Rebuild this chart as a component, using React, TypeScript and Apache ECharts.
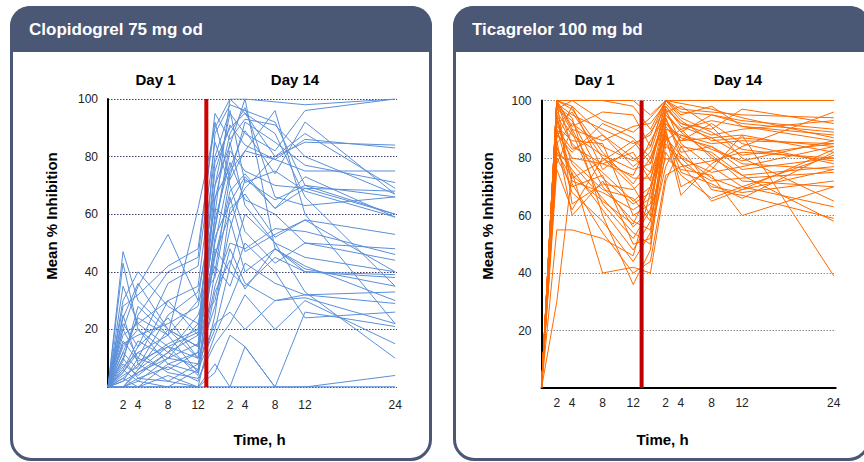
import React, { useEffect, useRef } from "react";
import * as echarts from "echarts";

// Sampling times (hours)
const DAY1_HOURS = [0, 2, 4, 8, 12];
const DAY14_HOURS = [0, 2, 4, 8, 12, 24];
const DAY14_TICK_HOURS = [2, 4, 8, 12, 24];
const DAY1_TICK_HOURS = [2, 4, 8, 12];
const Y_TICKS = [20, 40, 60, 80, 100];

// Per-subject % inhibition: day 1 (0,2,4,8,12 h) then day 14 (0,2,4,8,12,24 h)
const CLOPIDOGREL_VALUES: number[][] = [
  [0, 47, 30, 20, 10, 60, 100, 100, 99, 98, 100],
  [0, 20, 35, 53, 30, 70, 95, 88, 82, 96, 100],
  [0, 5, 12, 18, 62, 90, 100, 95, 80, 85, 84],
  [0, 10, 25, 40, 45, 95, 86, 93, 91, 80, 67],
  [0, 25, 8, 15, 20, 75, 91, 84, 79, 86, 83],
  [0, 0, 5, 10, 15, 50, 75, 82, 79, 75, 75],
  [0, 3, 0, 8, 5, 40, 73, 92, 85, 77, 71],
  [0, 15, 18, 22, 28, 55, 82, 75, 70, 69, 68],
  [0, 8, 4, 12, 18, 65, 88, 97, 66, 63, 66],
  [0, 30, 40, 28, 22, 30, 55, 72, 65, 70, 66],
  [0, 2, 10, 6, 12, 45, 68, 74, 62, 69, 60],
  [0, 18, 22, 30, 35, 80, 96, 71, 75, 68, 59],
  [0, 0, 0, 4, 0, 25, 62, 67, 52, 58, 53],
  [0, 12, 6, 20, 14, 58, 78, 65, 60, 50, 48],
  [0, 6, 16, 10, 8, 35, 50, 48, 55, 54, 46],
  [0, 22, 14, 36, 42, 85, 70, 54, 43, 50, 44],
  [0, 0, 2, 0, 6, 20, 42, 60, 50, 45, 40],
  [0, 9, 28, 18, 5, 48, 40, 35, 45, 40, 39],
  [0, 4, 7, 25, 33, 62, 58, 40, 48, 40, 38],
  [0, 14, 20, 8, 12, 70, 84, 100, 48, 41, 35],
  [0, 0, 3, 7, 2, 18, 30, 43, 36, 32, 33],
  [0, 35, 22, 14, 10, 28, 48, 36, 30, 32, 29],
  [0, 2, 5, 12, 25, 42, 35, 50, 40, 24, 26],
  [0, 10, 3, 2, 8, 22, 26, 20, 30, 31, 22],
  [0, 0, 0, 0, 0, 5, 18, 14, 0, 26, 21],
  [0, 7, 12, 5, 3, 15, 22, 32, 20, 30, 15],
  [0, 20, 10, 30, 18, 55, 85, 63, 50, 33, 10],
  [0, 0, 0, 0, 0, 0, 0, 0, 0, 0, 4],
  [0, 0, 0, 0, 0, 0, 0, 0, 0, 0, 0],
  [0, 3, 8, 2, 0, 8, 0, 14, 0, 0, 0],
  [0, 28, 32, 42, 48, 92, 72, 82, 96, 60, 22],
  [0, 16, 9, 14, 19, 78, 90, 95, 88, 66, 35],
  [0, 5, 14, 24, 10, 66, 76, 89, 74, 92, 67],
  [0, 43, 20, 12, 6, 52, 64, 73, 62, 73, 59],
  [0, 12, 24, 18, 30, 38, 66, 47, 53, 58, 40],
  [0, 0, 6, 14, 4, 33, 44, 34, 48, 42, 30],
  [0, 24, 36, 20, 14, 88, 98, 96, 92, 70, 60],
  [0, 6, 2, 10, 22, 46, 60, 69, 80, 88, 69],
];

const TICAGRELOR_VALUES: number[][] = [
  [0, 100, 100, 100, 100, 95, 100, 100, 100, 100, 100],
  [0, 100, 100, 100, 98, 90, 100, 100, 100, 100, 100],
  [0, 100, 98, 88, 80, 75, 100, 97, 96, 95, 94],
  [0, 99, 95, 90, 85, 88, 100, 96, 95, 92, 89],
  [0, 92, 96, 80, 70, 60, 98, 92, 90, 97, 92],
  [0, 88, 82, 92, 87, 80, 95, 90, 93, 91, 86],
  [0, 95, 85, 75, 65, 70, 90, 88, 85, 86, 85],
  [0, 100, 90, 70, 58, 55, 92, 86, 87, 88, 82],
  [0, 85, 92, 84, 79, 84, 100, 94, 89, 83, 79],
  [0, 90, 72, 68, 62, 66, 86, 90, 80, 74, 77],
  [0, 80, 70, 74, 50, 52, 88, 78, 72, 73, 75],
  [0, 96, 88, 81, 76, 78, 97, 85, 77, 70, 81],
  [0, 83, 76, 62, 48, 58, 84, 80, 70, 68, 72],
  [0, 100, 84, 78, 82, 72, 96, 98, 91, 80, 65],
  [0, 86, 60, 72, 56, 62, 80, 76, 74, 60, 70],
  [0, 94, 78, 66, 54, 50, 82, 74, 66, 70, 63],
  [0, 78, 90, 86, 91, 92, 99, 93, 86, 87, 84],
  [0, 55, 55, 52, 46, 68, 91, 84, 69, 67, 59],
  [0, 30, 75, 40, 42, 40, 72, 84, 82, 74, 58],
  [0, 98, 94, 60, 36, 48, 90, 70, 76, 88, 39],
  [0, 100, 64, 71, 69, 75, 88, 67, 78, 84, 96],
  [0, 89, 80, 78, 74, 86, 95, 89, 95, 93, 90],
  [0, 97, 100, 93, 89, 94, 100, 99, 97, 94, 87],
  [0, 91, 86, 85, 60, 64, 94, 82, 84, 76, 80],
  [0, 84, 68, 58, 44, 54, 77, 88, 83, 79, 86],
  [0, 100, 97, 82, 71, 80, 93, 86, 92, 85, 78],
  [0, 93, 74, 65, 57, 70, 85, 78, 65, 69, 76],
  [0, 87, 98, 76, 84, 89, 97, 92, 88, 90, 93],
  [0, 76, 62, 80, 73, 73, 89, 75, 71, 66, 82],
  [0, 100, 91, 96, 95, 84, 100, 95, 98, 91, 88],
  [0, 81, 79, 69, 66, 58, 87, 81, 73, 69, 83],
  [0, 95, 71, 54, 40, 44, 74, 77, 79, 82, 80],
  [0, 90, 83, 88, 77, 82, 98, 91, 87, 81, 85],
  [0, 99, 89, 64, 52, 62, 92, 87, 84, 78, 76],
  [0, 82, 73, 79, 86, 78, 94, 80, 75, 77, 84],
  [0, 97, 93, 73, 64, 68, 96, 89, 81, 72, 70],
];

const PANEL_TITLES = ["Clopidogrel 75 mg od", "Ticagrelor 100 mg bd"];
const DAY_LABELS = ["Day 1", "Day 14"];

// layout constants (axis positions, not data)
const DAY14_OFFSET = 14.25;
const SWITCH_POS = 13.1;
const X_MAX = 38.5;

const FONT = "'Liberation Sans', Arial, Helvetica, sans-serif";
const FRAME = "#4a5775";

function toPoints(row: number[]) {
  return [
    ...DAY1_HOURS.map((h, i) => [h, row[i]]),
    ...DAY14_HOURS.map((h, i) => [DAY14_OFFSET + h, row[DAY1_HOURS.length + i]]),
  ];
}

const X_LABELS: Record<string, string> = {};
DAY1_TICK_HOURS.forEach((h) => (X_LABELS[String(Math.round(h * 100))] = String(h)));
DAY14_TICK_HOURS.forEach(
  (h) => (X_LABELS[String(Math.round((DAY14_OFFSET + h) * 100))] = String(h))
);

export default function App() {
  const ref = useRef<HTMLDivElement>(null);
  useEffect(() => {
    if (!ref.current) return;
    const chart = echarts.init(ref.current, undefined, { renderer: "svg" });

    const grids = [
      { left: 108, right: 864 - 397, top: 99, bottom: 462 - 387 },
      { left: 541.5, right: 864 - 835.7, top: 100.5, bottom: 462 - 388 },
    ];

    const xAxes = [0, 1].map((p) => ({
      type: "value",
      gridIndex: p,
      min: 0,
      max: X_MAX,
      interval: 0.25,
      axisLine: { show: p === 1, lineStyle: { color: "#000", width: 2 } },
      axisTick: { show: false },
      splitLine: { show: false },
      axisLabel: {
        color: "#222",
        fontSize: 12,
        fontFamily: FONT,
        margin: p === 0 ? 12 : 9,
        showMinLabel: true,
        showMaxLabel: true,
        formatter: (v: number) => X_LABELS[String(Math.round(v * 100))] || "",
      },
    }));

    const yAxes = [0, 1].map((p) => ({
      type: "value",
      gridIndex: p,
      min: 0,
      max: 100,
      interval: 20,
      axisLine: { show: true, lineStyle: { color: "#000", width: 2 } },
      axisTick: { show: false },
      splitLine: {
        show: true,
        lineStyle: {
          color: p === 0 ? "#3c3c70" : "#8a8a8a",
          type: [1.5, 1.5],
          width: 1,
        },
      },
      axisLabel: {
        color: "#222",
        fontSize: 12,
        fontFamily: FONT,
        margin: 10,
        formatter: (v: number) => (Y_TICKS.includes(v) ? String(v) : ""),
      },
    }));

    const series: any[] = [];
    const sets = [
      { rows: CLOPIDOGREL_VALUES, color: "#5b8fd8", red: "#d00000" },
      { rows: TICAGRELOR_VALUES, color: "#ff6a00", red: "#c00000" },
    ];
    sets.forEach((s, p) => {
      s.rows.forEach((r) =>
        series.push({
          type: "line",
          xAxisIndex: p,
          yAxisIndex: p,
          data: toPoints(r),
          symbol: "none",
          silent: true,
          lineStyle: { width: 1, color: s.color },
          z: 2,
        })
      );
      series.push({
        type: "line",
        xAxisIndex: p,
        yAxisIndex: p,
        data: [
          [SWITCH_POS, 0],
          [SWITCH_POS, 100],
        ],
        symbol: "none",
        silent: true,
        lineStyle: { width: 4, color: s.red },
        z: 5,
      });
    });

    const panels = [
      { x0: 10, x1: 432, titleX: 29, day1X: 155.5, day14X: 295, yNameX: 51, timeX: 259.5 },
      { x0: 453, x1: 870, titleX: 472, day1X: 594.5, day14X: 738, yNameX: 487, timeX: 662.5 },
    ];
    const graphic: any[] = [];
    panels.forEach((pn, p) => {
      graphic.push({
        type: "rect",
        z: -10,
        shape: { x: pn.x0 + 1.5, y: 7.5, width: pn.x1 - pn.x0 - 3, height: 452, r: 20 },
        style: { fill: "#fff", stroke: FRAME, lineWidth: 3 },
      });
      graphic.push({
        type: "rect",
        z: -9,
        shape: { x: pn.x0, y: 6, width: pn.x1 - pn.x0, height: 46, r: [20, 20, 0, 0] },
        style: { fill: FRAME },
      });
      graphic.push({
        type: "text",
        z: 10,
        x: pn.titleX,
        y: 29,
        style: {
          text: PANEL_TITLES[p],
          fill: "#fff",
          font: `bold 17px ${FONT}`,
          textVerticalAlign: "middle",
          verticalAlign: "middle",
        },
      });
      [pn.day1X, pn.day14X].forEach((dx, i) =>
        graphic.push({
          type: "text",
          z: 10,
          x: dx,
          y: 79,
          style: {
            text: DAY_LABELS[i],
            fill: "#000",
            font: `bold 15px ${FONT}`,
            align: "center",
            verticalAlign: "middle",
          },
        })
      );
      graphic.push({
        type: "text",
        z: 10,
        x: pn.yNameX,
        y: 216,
        rotation: Math.PI / 2,
        style: {
          text: "Mean % Inhibition",
          fill: "#000",
          font: `bold 15px ${FONT}`,
          align: "center",
          verticalAlign: "middle",
        },
      });
      graphic.push({
        type: "text",
        z: 10,
        x: pn.timeX,
        y: 439,
        style: {
          text: "Time, h",
          fill: "#000",
          font: `bold 15px ${FONT}`,
          align: "center",
          verticalAlign: "middle",
        },
      });
    });

    chart.setOption({
      animation: false,
      backgroundColor: "#fff",
      grid: grids,
      xAxis: xAxes,
      yAxis: yAxes,
      series,
      graphic,
    });
    return () => chart.dispose();
  }, []);

  return (
    <div
      ref={ref}
      style={{ position: "fixed", left: 0, top: 0, width: 864, height: 462 }}
    />
  );
}
